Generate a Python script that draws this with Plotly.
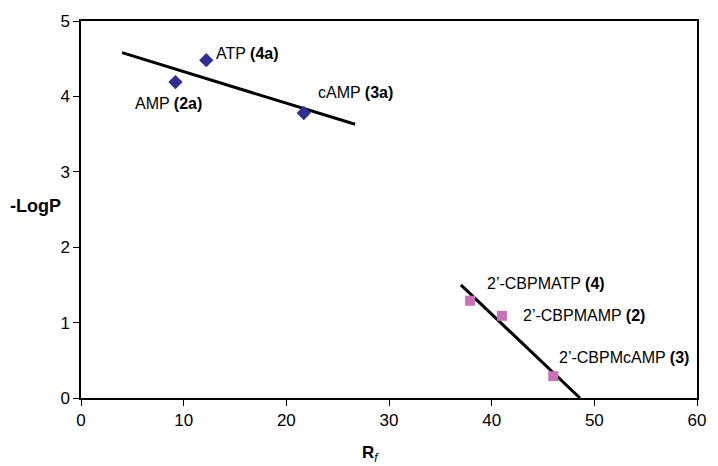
import plotly.graph_objects as go

# Data
nuc_names = ["AMP", "ATP", "cAMP"]
nuc_ids = ["2a", "4a", "3a"]
nuc_rf = [9.2, 12.2, 21.7]
nuc_logp = [4.19, 4.48, 3.78]

cbpm_names = ["2\u2019-CBPMATP", "2\u2019-CBPMAMP", "2\u2019-CBPMcAMP"]
cbpm_ids = ["4", "2", "3"]
cbpm_rf = [37.9, 41.0, 46.0]
cbpm_logp = [1.29, 1.09, 0.29]

fit1_x = [4.0, 26.7]
fit1_y = [4.58, 3.63]
fit2_x = [37.0, 48.6]
fit2_y = [1.50, 0.0]

x_ticks = [0, 10, 20, 30, 40, 50, 60]
y_ticks = [0, 1, 2, 3, 4, 5]

FONT = "Liberation Sans, Arial, sans-serif"

fig = go.Figure()
fig.add_trace(go.Scatter(x=fit1_x, y=fit1_y, mode="lines",
                         line=dict(color="black", width=3), showlegend=False))
fig.add_trace(go.Scatter(x=fit2_x, y=fit2_y, mode="lines",
                         line=dict(color="black", width=3), showlegend=False))
fig.add_trace(go.Scatter(x=nuc_rf, y=nuc_logp, mode="markers",
                         marker=dict(symbol="diamond", size=11, color="#2e3192"),
                         showlegend=False))
fig.add_trace(go.Scatter(x=cbpm_rf, y=cbpm_logp, mode="markers",
                         marker=dict(symbol="square", size=10, color="#cc6fbb"),
                         showlegend=False))

# label placements (pixel offsets right / down relative to point)
nuc_off = [(-7, 21, "center"), (8, -7, "left"), (12, -20, "left")]
cbpm_off = [(15, -17, "left"), (19, 0, "left"), (4, -19, "left")]

for n, i, x, y, (dx, dy, al) in zip(nuc_names, nuc_ids, nuc_rf, nuc_logp, nuc_off):
    fig.add_annotation(x=x, y=y, text=f"{n} <b>({i})</b>", showarrow=False,
                       xshift=dx, yshift=-dy, xanchor=al, yanchor="middle",
                       font=dict(family=FONT, size=16, color="black"))
for n, i, x, y, (dx, dy, al) in zip(cbpm_names, cbpm_ids, cbpm_rf, cbpm_logp, cbpm_off):
    fig.add_annotation(x=x, y=y, text=f"{n} <b>({i})</b>", showarrow=False,
                       xshift=dx, yshift=-dy, xanchor=al, yanchor="middle",
                       font=dict(family=FONT, size=16, color="black"))

fig.add_annotation(xref="paper", yref="paper", x=-0.029, y=0.509, text="<b>-LogP</b>",
                   showarrow=False, xanchor="right", yanchor="middle",
                   font=dict(family=FONT, size=18, color="black"))
fig.add_annotation(xref="paper", yref="paper", x=0.47, y=-0.148, text="<b>R</b><sub><i>f</i></sub>",
                   showarrow=False, xanchor="center", yanchor="middle",
                   font=dict(family=FONT, size=17, color="black"))

fig.update_xaxes(range=[0, 60], tickvals=x_ticks, ticks="outside", ticklen=6,
                 tickcolor="black", showline=True, linecolor="black", linewidth=1.5,
                 mirror=True, showgrid=False, zeroline=False,
                 tickfont=dict(family=FONT, size=17, color="black"))
fig.update_yaxes(range=[0, 5], tickvals=y_ticks, ticks="outside", ticklen=6,
                 tickcolor="black", showline=True, linecolor="black", linewidth=1.5,
                 mirror=True, showgrid=False, zeroline=False,
                 tickfont=dict(family=FONT, size=17, color="black"))

fig.update_layout(width=718, height=466, plot_bgcolor="white", paper_bgcolor="white",
                  margin=dict(l=81, r=12, t=19, b=68), showlegend=False)

fig.write_html("out.html", config={"displayModeBar": False},
               post_script="document.body.style.margin='0';document.body.style.overflow='hidden';")
